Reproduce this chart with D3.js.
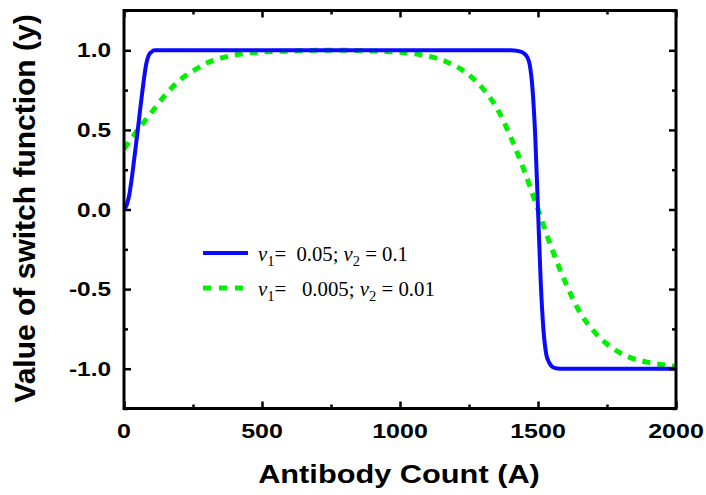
<!DOCTYPE html>
<html>
<head>
<meta charset="utf-8">
<script src="https://cdn.jsdelivr.net/npm/d3@7"></script>
<style>
  html, body { margin: 0; padding: 0; background: #fff; }
  svg { display: block; }
</style>
</head>
<body>
<svg id="chart" width="706" height="495"></svg>
<script>
// ---- data ----
const xTicks = [0, 500, 1000, 1500, 2000];
const xMinorTicks = [250, 750, 1250, 1750];
const yTicks = [-1.0, -0.5, 0.0, 0.5, 1.0];
const yMinorTicks = [-1.25, -0.75, -0.25, 0.25, 0.75, 1.25];
const xTickLabels = ["0", "500", "1000", "1500", "2000"];
const yTickLabels = ["-1.0", "-0.5", "0.0", "0.5", "1.0"];

const blueA = [0, 10, 20, 30, 40, 50, 60, 70, 80, 90, 100, 110, 120, 200, 400, 600, 800, 1000, 1200, 1400, 1430, 1450, 1460, 1470, 1480, 1490, 1500, 1510, 1520, 1530, 1540, 1550, 1560, 1580, 1600, 1800, 2000];
const blueY = [0, 0.03, 0.1, 0.22, 0.36, 0.5, 0.65, 0.79, 0.91, 0.97, 0.99, 1, 1, 1, 1, 1, 1, 1, 1, 1, 0.995, 0.98, 0.96, 0.91, 0.76, 0.46, 0, -0.46, -0.76, -0.91, -0.96, -0.985, -0.995, -1, -1, -1, -1];

const greenA = [0, 50, 100, 150, 200, 250, 300, 400, 500, 600, 700, 800, 900, 1000, 1100, 1170, 1250, 1300, 1350, 1400, 1450, 1500, 1550, 1600, 1650, 1700, 1750, 1830, 1900, 2000];
const greenY = [0.38, 0.5, 0.61, 0.72, 0.81, 0.87, 0.92, 0.97, 0.99, 0.995, 1, 1, 0.995, 0.987, 0.964, 0.927, 0.845, 0.76, 0.64, 0.46, 0.245, 0, -0.245, -0.46, -0.64, -0.76, -0.845, -0.927, -0.96, -0.985];

const seriesNames = ["s1", "s2"];

// ---- layout ----
const svg = d3.select("#chart");
const pL = 124, pR = 676, pT = 10.5, pB = 408.5;
const SX = 1.22; // horizontal stretch of the original picture's text

const x = d3.scaleLinear().domain([0, 2000]).range([pL, pR]);
const y = d3.scaleLinear().domain([-1.25, 1.25]).range([pB, pT]);

svg.append("rect").attr("width", 706).attr("height", 495).attr("fill", "#fff");

svg.append("clipPath").attr("id", "clip").append("rect")
  .attr("x", pL).attr("y", pT).attr("width", pR - pL).attr("height", pB - pT);

const line = d3.line().x(d => x(d[0])).y(d => y(d[1])).curve(d3.curveMonotoneX);

const plot = svg.append("g").attr("clip-path", "url(#clip)");
plot.append("path")
  .datum(greenA.map((a, i) => [a, greenY[i]]))
  .attr("d", line).attr("fill", "none")
  .attr("stroke", "#00f000").attr("stroke-width", 5)
  .attr("stroke-dasharray", "8,7");
plot.append("path")
  .datum(blueA.map((a, i) => [a, blueY[i]]))
  .attr("d", line).attr("fill", "none")
  .attr("stroke", "#0a0aff").attr("stroke-width", 4)
  .attr("stroke-linejoin", "round");

// ---- axes (ticks inward on all four sides) ----
const major = 7, minor = 4;
function styleAxis(g) {
  g.selectAll(".domain").remove();
  g.selectAll(".tick line").attr("stroke", "#000").attr("stroke-width", 2.5);
}
const axesDefs = [
  [d3.axisBottom(x).tickValues(xTicks).tickSize(-major), `translate(0,${pB})`],
  [d3.axisBottom(x).tickValues(xMinorTicks).tickSize(-minor), `translate(0,${pB})`],
  [d3.axisTop(x).tickValues(xTicks).tickSize(-major), `translate(0,${pT})`],
  [d3.axisTop(x).tickValues(xMinorTicks).tickSize(-minor), `translate(0,${pT})`],
  [d3.axisLeft(y).tickValues(yTicks).tickSize(-major), `translate(${pL},0)`],
  [d3.axisLeft(y).tickValues(yMinorTicks).tickSize(-minor), `translate(${pL},0)`],
  [d3.axisRight(y).tickValues(yTicks).tickSize(-major), `translate(${pR},0)`],
  [d3.axisRight(y).tickValues(yMinorTicks).tickSize(-minor), `translate(${pR},0)`]
];
axesDefs.forEach(([ax, tr]) => {
  svg.append("g").attr("transform", tr).call(ax.tickFormat("")).call(styleAxis);
});

// frame
svg.append("rect").attr("x", pL).attr("y", pT)
  .attr("width", pR - pL).attr("height", pB - pT)
  .attr("fill", "none").attr("stroke", "#000").attr("stroke-width", 3);

const FONT = "'Liberation Sans', Arial, Helvetica, sans-serif";

function stretchedText(px, py, txt, size, anchor, sx) {
  const g = svg.append("g").attr("transform", `translate(${px},${py}) scale(${sx},1)`);
  g.append("text").attr("x", 0).attr("y", 0)
    .attr("text-anchor", anchor)
    .attr("font-family", FONT).attr("font-weight", "bold")
    .attr("font-size", size).attr("fill", "#000")
    .text(txt);
  return g;
}

// tick labels
xTicks.forEach((v, i) => stretchedText(x(v), 437.5, xTickLabels[i], 20.5, "middle", SX));
yTicks.forEach((v, i) => stretchedText(111, y(v) + 7, yTickLabels[i], 20, "end", SX));

// axis titles
stretchedText(399, 483, "Antibody Count (A)", 25, "middle", 1.23);
svg.append("text")
  .attr("transform", `translate(35,208.5) rotate(-90)`)
  .attr("text-anchor", "middle")
  .attr("font-family", FONT).attr("font-weight", "bold")
  .attr("font-size", 30).attr("fill", "#000")
  .text("Value of switch function (y)");

// ---- legend ----
const legendItems = [
  { name: seriesNames[0], color: "#0a0aff", dash: null, width: 4, ly: 253, parts: ["=  0.05; ", " = 0.1"], target: 150 },
  { name: seriesNames[1], color: "#00f000", dash: "8,8", width: 5, ly: 288, parts: ["=   0.005; ", " = 0.01"], target: 177 }
];
legendItems.forEach(it => {
  const ln = svg.append("line").attr("x1", 203).attr("x2", 248)
    .attr("y1", it.ly).attr("y2", it.ly)
    .attr("stroke", it.color).attr("stroke-width", it.width);
  if (it.dash) ln.attr("stroke-dasharray", it.dash);
  const g = svg.append("g");
  const t = g.append("text").attr("x", 0).attr("y", 0)
    .attr("font-family", "'Liberation Serif', 'Times New Roman', serif")
    .attr("font-size", 20).attr("fill", "#000")
    .style("white-space", "pre");
  t.append("tspan").attr("font-style", "italic").text("ν");
  t.append("tspan").attr("font-size", 14).attr("dy", 5).text("1");
  t.append("tspan").attr("dy", -5).text(it.parts[0]);
  t.append("tspan").attr("font-style", "italic").text("ν");
  t.append("tspan").attr("font-size", 14).attr("dy", 5).text("2");
  t.append("tspan").attr("dy", -5).text(it.parts[1]);
  const w = t.node().getBBox().width;
  const s = it.target / w;
  g.attr("transform", `translate(258,${it.ly + 8}) scale(${s},1)`);
});
</script>
</body>
</html>
